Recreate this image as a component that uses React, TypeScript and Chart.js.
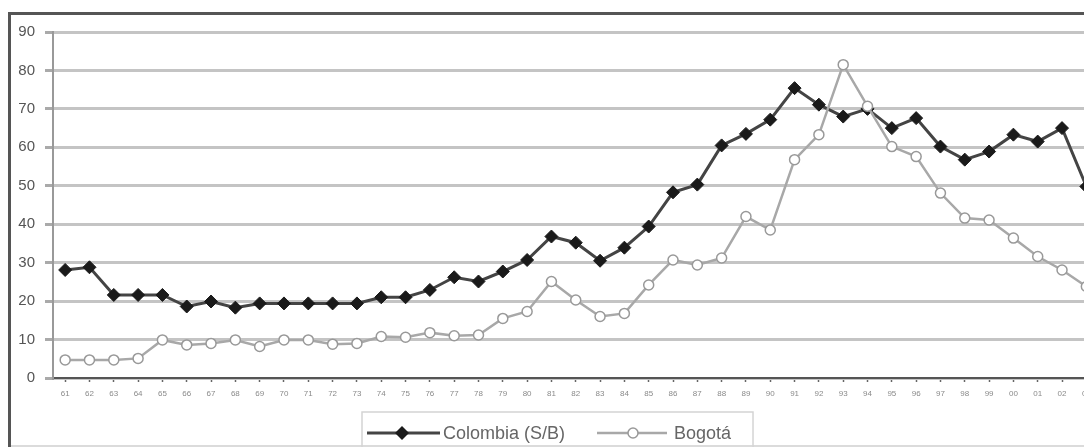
import React, { useEffect, useRef } from "react";
import { Chart, registerables } from "chart.js";

Chart.register(...registerables);

const years = [
  "61", "62", "63", "64", "65", "66", "67", "68", "69", "70",
  "71", "72", "73", "74", "75", "76", "77", "78", "79", "80",
  "81", "82", "83", "84", "85", "86", "87", "88", "89", "90",
  "91", "92", "93", "94", "95", "96", "97", "98", "99", "00",
  "01", "02", "03",
];

const colombia = [
  28.1, 28.8, 21.6, 21.6, 21.6, 18.6, 19.9, 18.3, 19.4, 19.4,
  19.4, 19.4, 19.4, 21.0, 21.0, 22.9, 26.2, 25.1, 27.7, 30.7,
  36.8, 35.2, 30.5, 33.9, 39.4, 48.3, 50.3, 60.5, 63.5, 67.2,
  75.4, 71.1, 68.0, 70.0, 65.0, 67.6, 60.2, 56.8, 58.9, 63.3,
  61.5, 65.0, 49.8,
];

const bogota = [
  4.7, 4.7, 4.7, 5.1, 9.9, 8.6, 9.0, 9.9, 8.2, 9.9,
  9.9, 8.8, 9.0, 10.8, 10.6, 11.8, 11.0, 11.2, 15.5, 17.3,
  25.1, 20.3, 16.0, 16.8, 24.2, 30.7, 29.4, 31.2, 42.0, 38.5,
  56.8, 63.3, 81.5, 70.7, 60.2, 57.6, 48.1, 41.6, 41.1, 36.4,
  31.6, 28.1, 23.8,
];

const seriesNames = ["Colombia (S/B)", "Bogotá"];
const yTicks = { min: 0, max: 90, step: 10 };

const FONT = "'Liberation Sans', Arial, sans-serif";

const framePlugin = {
  id: "frameAndLegend",
  afterDraw(chart: any) {
    const ctx = chart.ctx as CanvasRenderingContext2D;
    const w = chart.width;
    const h = chart.height;
    ctx.save();
    // frame
    ctx.strokeStyle = "#cfcfcf";
    ctx.lineWidth = 1.5;
    ctx.beginPath();
    ctx.moveTo(0, h - 1);
    ctx.lineTo(w, h - 1);
    ctx.stroke();
    ctx.strokeStyle = "#555";
    ctx.lineWidth = 3;
    ctx.beginPath();
    ctx.moveTo(0, 1.5);
    ctx.lineTo(w, 1.5);
    ctx.stroke();
    ctx.beginPath();
    ctx.moveTo(1.5, 0);
    ctx.lineTo(1.5, h);
    ctx.stroke();

    // legend box
    ctx.strokeStyle = "#d4d4d4";
    ctx.lineWidth = 1.5;
    ctx.strokeRect(354, 400, 391, 40);

    const ly = 421;
    // Colombia
    ctx.strokeStyle = "#444";
    ctx.lineWidth = 3;
    ctx.beginPath();
    ctx.moveTo(359, ly);
    ctx.lineTo(432, ly);
    ctx.stroke();
    ctx.fillStyle = "#1a1a1a";
    ctx.beginPath();
    ctx.moveTo(394, ly - 7);
    ctx.lineTo(401, ly);
    ctx.lineTo(394, ly + 7);
    ctx.lineTo(387, ly);
    ctx.closePath();
    ctx.fill();
    // Bogota
    ctx.strokeStyle = "#a8a8a8";
    ctx.lineWidth = 2.5;
    ctx.beginPath();
    ctx.moveTo(589, ly);
    ctx.lineTo(659, ly);
    ctx.stroke();
    ctx.fillStyle = "#fff";
    ctx.lineWidth = 1.5;
    ctx.strokeStyle = "#999";
    ctx.beginPath();
    ctx.arc(625, ly, 5, 0, Math.PI * 2);
    ctx.fill();
    ctx.stroke();

    ctx.fillStyle = "#666";
    ctx.font = `18px ${FONT}`;
    ctx.textBaseline = "middle";
    ctx.textAlign = "left";
    ctx.fillText(seriesNames[0], 435, ly + 1);
    ctx.fillText(seriesNames[1], 666, ly + 1);
    ctx.restore();
  },
};

export default function App() {
  const ref = useRef<HTMLCanvasElement | null>(null);

  useEffect(() => {
    document.documentElement.style.overflow = "hidden";
    document.body.style.overflow = "hidden";
    const canvas = ref.current;
    if (!canvas) return;
    const chart = new Chart(canvas, {
      type: "line",
      data: {
        labels: years,
        datasets: [
          {
            label: seriesNames[0],
            data: colombia,
            borderColor: "#444",
            borderWidth: 3,
            pointStyle: "rectRot",
            pointRadius: 6.5,
            pointBackgroundColor: "#1a1a1a",
            pointBorderColor: "#1a1a1a",
            pointBorderWidth: 1,
            tension: 0,
            order: 1,
          },
          {
            label: seriesNames[1],
            data: bogota,
            borderColor: "#a8a8a8",
            borderWidth: 2.5,
            pointStyle: "circle",
            pointRadius: 5,
            pointBackgroundColor: "#fff",
            pointBorderColor: "#999",
            pointBorderWidth: 1.5,
            tension: 0,
            order: 0,
          },
        ],
      },
      options: {
        responsive: false,
        animation: false,
        devicePixelRatio: 1,
        layout: { padding: { left: 0, right: 0, top: 20, bottom: 0 } },
        plugins: {
          legend: { display: false },
          tooltip: { enabled: false },
        },
        scales: {
          x: {
            type: "category",
            offset: true,
            afterFit: (s: any) => {
              s.height = 69;
            },
            border: { display: true, color: "#555", width: 2 },
            grid: {
              display: true,
              drawOnChartArea: false,
              drawTicks: true,
              tickLength: 4,
              tickColor: "#666",
              tickWidth: 1.5,
            },
            ticks: {
              color: "#8a8a8a",
              font: { size: 8, family: FONT },
              padding: 7,
              maxRotation: 0,
              autoSkip: false,
            },
          },
          y: {
            min: yTicks.min,
            max: yTicks.max,
            afterFit: (s: any) => {
              s.width = 45;
            },
            border: { display: true, color: "#999", width: 2 },
            grid: {
              color: "#c4c4c4",
              lineWidth: 3,
              drawTicks: true,
              tickLength: 8,
              tickColor: "#aaa",
            },
            ticks: {
              stepSize: yTicks.step,
              color: "#555",
              font: { size: 15, family: FONT },
              padding: 10,
            },
          },
        },
      },
      plugins: [framePlugin],
    });
    return () => chart.destroy();
  }, []);

  return (
    <div style={{ paddingTop: 4 }}>
      <div style={{ width: 1084, height: 435, overflow: "hidden", position: "relative" }}>
        <canvas ref={ref} width={1098} height={435} style={{ display: "block" }} />
      </div>
    </div>
  );
}
